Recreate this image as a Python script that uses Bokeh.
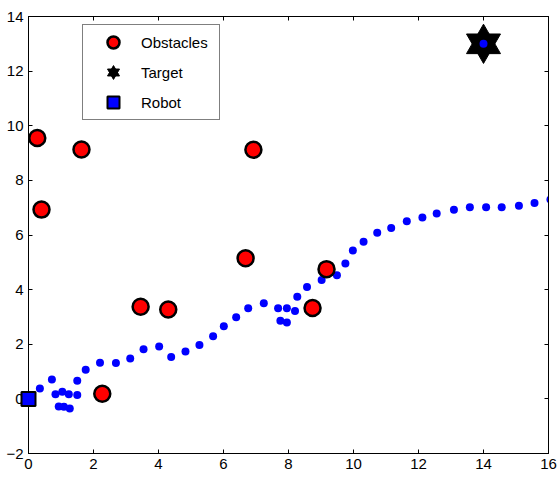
from bokeh.plotting import figure
from bokeh.models import (LinearAxis, SingleIntervalTicker, Range1d, Legend,
                          LegendItem)
from bokeh.embed import file_html
from bokeh.resources import INLINE

# ---- data ----
obstacle_x = [0.27, 0.40, 1.63, 2.27, 3.45, 4.30, 6.68, 6.92, 8.74, 9.17]
obstacle_y = [9.55, 6.93, 9.13, 0.19, 3.37, 3.27, 5.15, 9.12, 3.33, 4.75]

target_x = [14.0]
target_y = [13.0]

robot_x = [0.0]
robot_y = [0.0]

path_x = [0.35, 0.72, 0.83, 1.04, 1.24, 0.93, 1.09, 1.27, 1.50, 1.50,
          1.76, 2.20, 2.69, 3.13, 3.54, 4.02, 4.39, 4.83, 5.26, 5.68,
          6.01, 6.39, 6.76, 7.24, 7.68, 7.95, 7.75, 7.95, 8.20, 8.27,
          8.57, 9.02, 9.49, 9.75, 9.98, 10.31, 10.73, 11.16, 11.64, 12.12,
          12.56, 13.09, 13.58, 14.08, 14.56, 15.09, 15.57, 16.06, 14.0]
path_y = [0.38, 0.71, 0.17, 0.26, 0.17, -0.28, -0.29, -0.35, 0.14, 0.66,
          1.07, 1.32, 1.31, 1.48, 1.82, 1.92, 1.53, 1.73, 1.97, 2.29,
          2.66, 2.99, 3.32, 3.50, 3.32, 3.32, 2.86, 2.80, 3.22, 3.74,
          4.10, 4.35, 4.53, 4.96, 5.43, 5.75, 6.08, 6.26, 6.50, 6.64,
          6.79, 6.92, 7.02, 7.02, 7.02, 7.07, 7.17, 7.30, 13.0]

legend_labels = ["Obstacles", "Target", "Robot"]

x_start, x_end = 0, 16
y_start, y_end = -2, 14
tick_step = 2

FONT = "Liberation Sans"

p = figure(width=558, height=477,
           x_range=Range1d(x_start, x_end), y_range=Range1d(y_start, y_end),
           output_backend="svg", toolbar_location=None,
           min_border_left=28, min_border_right=10,
           min_border_top=16, min_border_bottom=24,
           background_fill_color="white", border_fill_color="white")
p.grid.visible = False
p.outline_line_color = "black"
p.outline_line_width = 1


def style_axis(ax, show_labels):
    ax.ticker = SingleIntervalTicker(interval=tick_step, num_minor_ticks=0)
    ax.major_tick_in = 4
    ax.major_tick_out = 0
    ax.minor_tick_in = 0
    ax.minor_tick_out = 0
    ax.axis_line_color = "black"
    ax.major_tick_line_color = "black"
    if show_labels:
        ax.major_label_text_font = FONT
        ax.major_label_text_font_size = "15px"
        ax.major_label_text_color = "black"
        ax.major_label_standoff = 5
    else:
        ax.major_label_standoff = 0
        ax.major_label_text_font_size = "0px"


style_axis(p.xaxis[0], True)
style_axis(p.yaxis[0], True)
top_axis = LinearAxis()
right_axis = LinearAxis()
style_axis(top_axis, False)
style_axis(right_axis, False)
p.add_layout(top_axis, "above")
p.add_layout(right_axis, "right")

# target hexagram: two overlaid triangles
r_t1 = p.scatter(target_x, target_y, marker="triangle", size=34,
                 fill_color="black", line_color="black", line_width=1)
r_t2 = p.scatter(target_x, target_y, marker="inverted_triangle", size=34,
                 fill_color="black", line_color="black", line_width=1)

# robot path
p.scatter(path_x, path_y, marker="circle", size=8,
          fill_color="#0000ff", line_color=None)

# obstacles
r_obs = p.scatter(obstacle_x, obstacle_y, marker="circle", size=16,
                  fill_color="#ff0000", line_color="black", line_width=2.5)

# robot start
r_robot = p.scatter(robot_x, robot_y, marker="square", size=14,
                    fill_color="#0000ff", line_color="black", line_width=2,
                    level="overlay")

legend = Legend(items=[LegendItem(label=legend_labels[0], renderers=[r_obs]),
                       LegendItem(label=legend_labels[1], renderers=[r_t1, r_t2]),
                       LegendItem(label=legend_labels[2], renderers=[r_robot])],
                location=(54, 333), glyph_width=56, glyph_height=30,
                spacing=0, padding=2, label_standoff=0, label_height=20,
                label_width=76,
                label_text_font=FONT, label_text_font_size="15px",
                label_text_color="black",
                border_line_color="black", border_line_width=1,
                background_fill_color="white", background_fill_alpha=1)
p.add_layout(legend)

open("out.html", "w").write(file_html(p, INLINE))
